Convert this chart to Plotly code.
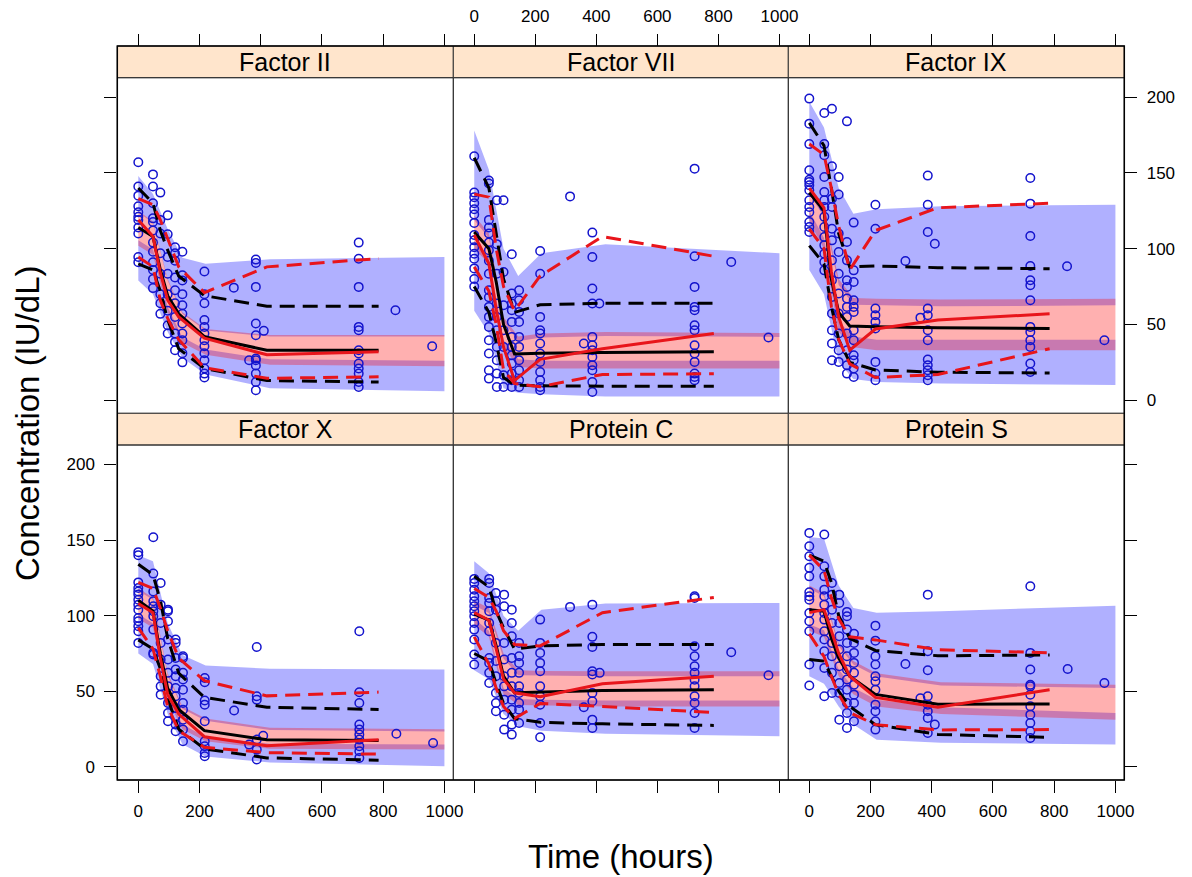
import plotly.graph_objects as go

W, H = 1192, 877

X_TICKS = [0, 200, 400, 600, 800, 1000]
Y_TICKS = [0, 50, 100, 150, 200]
X_RANGE = [-68.6, 1029]
Y_RANGE = [-8.6, 212.8]

# time grid of the percentile lines and of the confidence bands (hours)
T_LINE = [0, 48, 72, 96, 132, 216, 420, 785]
T_BAND = [0, 48, 96, 144, 220, 430, 1000]

# ---------------- Factor II ----------------
f2_points = [
    (0, [157, 141, 135, 128, 124, 121, 119, 114, 110, 94.5, 91]),
    (48, [149, 141, 130, 120, 117.6, 112, 104, 98, 91, 86, 80, 74]),
    (72, [137, 119, 110, 97, 83.5, 70, 64, 57]),
    (96, [122, 109.5, 94.5, 83.5, 70, 59, 49.5, 44]),
    (120, [101, 97, 92, 81, 72.6, 64, 55, 44, 38.5, 33]),
    (144, [98, 82.5, 79, 70, 62.7, 57, 50.6, 44, 39.6, 31, 25]),
    (216, [85, 70, 64, 53, 48.4, 44, 39.6, 35.6, 31, 26.4, 21, 17.6, 15]),
    (312, [74.3]),
    (362, [26.4]),
    (384, [92.8, 90.6, 74.8, 50.6, 42.9, 27.5, 26.4, 23, 17.6, 12, 6.6]),
    (410, [45.8]),
    (720, [104, 93.4, 74.8, 48.4, 46.2, 33, 30.8, 24.2, 21, 17.6, 12, 8.8]),
    (840, [59.4]),
    (960, [35.6]),
]
f2_sim_med = [114, 108, 86, 69, 57, 42, 33, 33]
f2_sim_p95 = [140, 130, 112, 99, 82, 69, 62, 62]
f2_sim_p05 = [90, 86, 72, 53, 34, 21, 13, 12]
f2_obs_med = [119, 108, 84, 66, 55, 41, 30, 32]
f2_obs_p95 = [133, 129, 119, 107, 88, 71, 88, 93.5]
f2_obs_p05 = [94.5, 88, 66, 54, 40, 21.5, 14.5, 15.5]
f2_ci95_hi = [148, 136, 113, 94, 90, 93, 94.5]
f2_ci95_lo = [124, 117, 79, 57, 46, 42, 42]
f2_cimed_hi = [125, 118, 80, 58, 47, 43, 43]
f2_cimed_lo = [102, 96, 58, 38, 30, 23.5, 22.5]
f2_ci05_hi = [105.5, 99.5, 61.5, 41.5, 33.5, 27, 26]
f2_ci05_lo = [79, 70, 45, 28, 17, 8, 6]

# ---------------- Factor VII ----------------
f7_points = [
    (0, [161, 137, 134, 130, 126, 122.5, 117, 109, 105.5, 101, 96.7, 93.4, 87, 80, 75]),
    (48, [145, 143, 119, 114, 110, 104, 99, 92, 83.5, 72.6, 68, 61.6, 55, 48.4, 39.6, 30.8, 19.8, 14.3]),
    (74, [132, 103, 83.5, 63.8, 55, 46.2, 35.2, 26.4, 17.6, 8.8]),
    (96, [132, 84.6, 62.7, 46.2, 35.2, 16.5, 8.8]),
    (123, [96.3, 70.4, 63.8, 59.4, 51.7, 41.8, 35.2, 29.7, 24.2, 17.6, 13.2, 8.8]),
    (147, [72.6, 66, 58.3, 51.7, 41.8, 35.2, 26.4, 19.8, 13.2, 8.8]),
    (216, [98.5, 83.5, 55, 46.2, 44, 37.4, 30.8, 25.3, 18.7, 13.2, 8.8, 6.6]),
    (314, [134.5]),
    (359, [37.4]),
    (387, [110.6, 94.5, 73.7, 63.8, 41.8, 36.3, 33, 28.6, 23.1, 19.8, 12.1, 5.5]),
    (410, [63.8]),
    (722, [152.8, 95, 74.8, 61.6, 59.4, 49.5, 46.2, 36.3, 30.8, 25.3, 17.6, 15.4, 13.2]),
    (842, [91.2]),
    (964, [41.4]),
]
f7_sim_med = [111, 100, 78, 50, 30.5, 31, 31.5, 32]
f7_sim_p95 = [160, 140, 110, 80, 58, 63, 64, 64]
f7_sim_p05 = [75, 58, 38, 15, 10, 9.5, 9.3, 9.3]
f7_obs_med = [109, 90, 60, 35, 13, 27, 34, 44]
f7_obs_p95 = [136, 134, 100, 75, 59, 82, 108, 95]
f7_obs_p05 = [88, 72, 50, 20, 11, 9, 17, 17.5]
f7_ci95_hi = [178, 152, 100, 82, 97, 103, 97]
f7_ci95_lo = [119, 107, 52, 39, 41.4, 42.4, 41.8]
f7_cimed_hi = [122, 110, 55, 42, 44, 45, 44.4]
f7_cimed_lo = [100, 90, 35, 22, 21, 21, 21]
f7_ci05_hi = [105, 95, 40, 27, 26, 26, 26]
f7_ci05_lo = [59, 44, 8, 5, 4, 2.5, 2.5]

# ---------------- Factor IX ----------------
f9_points = [
    (0, [199, 182.5, 169, 151.7, 145.5, 144, 141.8, 138.5, 132, 127.5, 124, 117.6, 114.3, 111]),
    (49, [189.5, 169, 161.6, 147.3, 137.4, 132, 127.5, 121, 114.3, 107.7, 102.2, 96.7, 91.2, 85.7]),
    (74, [192.3, 154.3, 133, 127.5, 113.2, 105.5, 92.3, 79.2, 68.2, 57.2, 46.2, 37.4, 26.4]),
    (96, [147.3, 135.8, 110, 97.8, 83.5, 70.4, 57.2, 44, 33, 25.3]),
    (123, [184, 104.4, 92.3, 79.2, 74.8, 67.1, 61.6, 55, 44, 33, 23.1, 17.6]),
    (145, [117.2, 85.7, 78, 66, 61.6, 58.3, 46.2, 39.6, 29.7, 26.4, 20.9, 15.4]),
    (216, [129, 113.2, 60.5, 56.1, 51.7, 47.3, 25.3, 17.6, 13.2]),
    (314, [91.9]),
    (363, [54.5]),
    (387, [148.2, 129, 111, 60.5, 56.1, 46.2, 39.6, 26.9, 23.1, 19.8, 16.5, 13.2]),
    (410, [103.3]),
    (722, [146.6, 129.7, 108.4, 88.6, 79.2, 75.9, 66, 48.4, 45.1, 39.6, 35.2, 24.2, 18.7]),
    (842, [88.4]),
    (964, [39.6]),
]
f9_sim_med = [137, 125, 80, 58, 49, 48.5, 47.8, 47.3]
f9_sim_p95 = [183, 168, 140, 110, 88, 88.6, 87.5, 86.8]
f9_sim_p05 = [102, 90, 62, 40, 25, 20, 18.5, 18]
f9_obs_med = [140, 127, 85, 55, 33, 47, 53, 57]
f9_obs_p95 = [169, 162, 140, 115, 86, 112, 127, 130]
f9_obs_p05 = [113, 100, 62, 40, 24, 15, 17, 34]
f9_ci95_hi = [197, 180, 140, 123, 126, 128, 129]
f9_ci95_lo = [136, 121, 76, 63, 62.6, 62, 62.6]
f9_cimed_hi = [140, 125, 80, 67.4, 67, 66.4, 67]
f9_cimed_lo = [118, 100, 45, 35, 33, 33, 33]
f9_ci05_hi = [125, 107, 52, 42, 40, 40, 40]
f9_ci05_lo = [86, 70, 25, 14, 12, 11, 10]

# ---------------- Factor X ----------------
f10_points = [
    (0, [142, 140, 122, 118.3, 116, 114, 110.6, 107.3, 104, 98.5, 96.3, 93, 89.7, 82]),
    (49, [151.8, 127.8, 116, 109.5, 106.2, 103, 99.6, 90.8, 75.4, 74.3]),
    (73, [121.6, 107.3, 95.2, 82, 71, 60, 53.3, 47.8]),
    (97, [104, 103, 96.3, 84.2, 71, 62.2, 53.3, 42.3, 35.7, 30.2]),
    (122, [84.2, 82, 72, 64.4, 60, 52.2, 46.7, 39, 33.5, 28, 23.6]),
    (146, [73.2, 72, 62.2, 57.8, 51.1, 42.3, 37.9, 31.3, 24.7, 17]),
    (217, [58.8, 56, 43.9, 41.2, 30.2, 17, 13.7, 9.3, 7.1]),
    (313, [37.3]),
    (362, [14.8]),
    (387, [79.3, 46.7, 44.5, 18.1, 11.5, 4.9]),
    (408, [20.7]),
    (722, [89.7, 49.4, 42.3, 28, 24.7, 21.4, 18.1, 13.7, 10.4, 6]),
    (843, [22]),
    (963, [15.9]),
]
f10_sim_med = [110, 103, 75, 52, 38, 24, 18, 17.5]
f10_sim_p95 = [134, 127, 110, 85, 62, 46, 39.5, 38]
f10_sim_p05 = [84, 78, 65, 45, 25, 12, 6, 4.5]
f10_obs_med = [108, 102, 72, 48, 35, 20, 14, 18]
f10_obs_p95 = [122, 118, 105, 90, 72, 57, 47, 49.5]
f10_obs_p05 = [92, 78, 60, 40, 24, 13, 9.5, 8.5]
f10_ci95_hi = [140, 136, 95, 74, 67, 65, 64.4]
f10_ci95_lo = [116.5, 110.5, 60.5, 38.5, 30.5, 24.5, 23.5]
f10_cimed_hi = [118, 112, 62, 40, 32, 26, 25]
f10_cimed_lo = [98, 92, 45, 25, 17, 12, 11.5]
f10_ci05_hi = [101, 95, 48, 28, 20, 15.3, 14.8]
f10_ci05_lo = [75, 68, 35, 15, 7, 3, 0.5]

# ---------------- Protein C ----------------
pc_points = [
    (0, [124.3, 121.6, 117.2, 112.8, 109.5, 106.2, 103, 99.6, 95.2, 90.8, 84.2, 74.3, 67.7]),
    (49, [124.3, 121.6, 111.7, 108.4, 103, 95.2, 89.7, 72, 68.8, 62.2, 55.5]),
    (71, [115, 109.5, 104, 82, 70, 60, 48.9, 42.3, 36.8]),
    (98, [113.9, 106.2, 82, 71, 60, 53.3, 44.5, 34.6, 24.7]),
    (123, [104, 95.2, 86.4, 72, 62.2, 53.3, 44.5, 37.9, 28, 21.4]),
    (147, [82, 73.2, 68.8, 62.2, 53.3, 48.9, 42.3, 37.9, 29.1]),
    (216, [97.4, 82, 75.4, 68.8, 63.3, 53.3, 46.7, 41.2, 29.1, 19.6]),
    (314, [105.8]),
    (359, [39.5]),
    (387, [107.3, 86, 79.3, 63.3, 61.1, 48.9, 43.4, 31.3, 25.8]),
    (411, [62.2]),
    (722, [112.8, 111.7, 79.8, 73.2, 66.6, 62.2, 57.7, 53.3, 46.7, 42.3, 35.7, 25.8]),
    (842, [75.8]),
    (964, [60.6]),
]
pc_sim_med = [101, 97, 80, 60, 49, 49.5, 50.5, 51]
pc_sim_p95 = [126, 119, 103, 92, 78, 80, 81, 81]
pc_sim_p05 = [75, 70, 55, 42, 32, 29.5, 28.5, 27.5]
pc_obs_med = [102, 97, 78, 58, 49, 46.5, 55, 60]
pc_obs_p95 = [118, 112, 103, 90, 81, 80, 102, 112]
pc_obs_p05 = [86, 68, 52, 40, 32, 42, 40, 36]
pc_ci95_hi = [136, 128, 100, 90, 104, 108, 108.4]
pc_ci95_lo = [106.7, 101.7, 71.7, 60.7, 60.2, 60, 60]
pc_cimed_hi = [110, 105, 75, 64, 63.5, 63.3, 63.3]
pc_cimed_lo = [94, 86, 48, 41, 40.5, 40, 40]
pc_ci05_hi = [98, 90, 52, 45, 44.5, 44, 44]
pc_ci05_lo = [64, 58, 35, 27, 24, 22, 20.3]

# ---------------- Protein S ----------------
ps_points = [
    (0, [154.7, 145.9, 139.3, 131.6, 126, 115.5, 112.8, 110.6, 101.8, 96.3, 89.7, 67.7, 53.8]),
    (49, [153.6, 132.7, 126, 117.2, 112.8, 107.3, 101.8, 97.4, 89.7, 84.2, 76.5, 65.5, 46.7]),
    (74, [121.6, 113.9, 104, 95.2, 82, 73.2, 62.2, 48.9]),
    (98, [113.9, 108.4, 95.2, 86.4, 77.6, 66.6, 55.5, 48.9, 31.3]),
    (123, [102.5, 99.6, 90.8, 82, 73.2, 64.4, 57.8, 51.1, 42.3, 35.7, 25.8]),
    (146, [88.1, 82, 75.4, 68.8, 62.2, 54.4, 47.8, 42.3, 30.2]),
    (216, [93.4, 83.5, 73.2, 67.7, 60, 56.6, 51.1, 41.2, 36.8, 30.2, 24.7]),
    (314, [68.1]),
    (363, [45.4]),
    (387, [113.9, 76.5, 63.9, 46.7, 41.2, 36.8, 32.4, 22.5]),
    (410, [28]),
    (722, [119.4, 75.4, 64.4, 54.4, 53.3, 47.8, 40.1, 34.6, 29.1, 23.6, 19.2]),
    (844, [64.8]),
    (964, [55.5]),
]
ps_sim_med = [104, 103, 85, 72, 60, 48, 41.5, 41.7]
ps_sim_p95 = [140, 136, 122, 100, 85, 77, 73.5, 74]
ps_sim_p05 = [71, 70, 60, 50, 40, 28, 21.5, 19.6]
ps_obs_med = [102, 104, 90, 75, 60, 46, 39.5, 51]
ps_obs_p95 = [140, 130, 112, 98, 86, 84, 77.5, 75.5]
ps_obs_p05 = [88, 73, 60, 48, 36, 28, 24.5, 24.7]
ps_ci95_hi = [152, 151, 120, 105, 102, 103, 106.6]
ps_ci95_lo = [117.8, 112.8, 79.8, 67.8, 59.8, 53.8, 52.2]
ps_cimed_hi = [120, 115, 82, 70, 62, 56, 54.4]
ps_cimed_lo = [90, 86, 60, 48, 40, 35, 31.3]
ps_ci05_hi = [94.4, 90.4, 64.4, 52.4, 44.4, 39.4, 35.7]
ps_ci05_lo = [60, 55, 40, 28, 18, 16, 14.8]

panels = [
    dict(title="Factor II", points=f2_points,
         sim=(f2_sim_med, f2_sim_p95, f2_sim_p05), obs=(f2_obs_med, f2_obs_p95, f2_obs_p05),
         ci05=(f2_ci05_lo, f2_ci05_hi), ci95=(f2_ci95_lo, f2_ci95_hi), cimed=(f2_cimed_lo, f2_cimed_hi)),
    dict(title="Factor VII", points=f7_points,
         sim=(f7_sim_med, f7_sim_p95, f7_sim_p05), obs=(f7_obs_med, f7_obs_p95, f7_obs_p05),
         ci05=(f7_ci05_lo, f7_ci05_hi), ci95=(f7_ci95_lo, f7_ci95_hi), cimed=(f7_cimed_lo, f7_cimed_hi)),
    dict(title="Factor IX", points=f9_points,
         sim=(f9_sim_med, f9_sim_p95, f9_sim_p05), obs=(f9_obs_med, f9_obs_p95, f9_obs_p05),
         ci05=(f9_ci05_lo, f9_ci05_hi), ci95=(f9_ci95_lo, f9_ci95_hi), cimed=(f9_cimed_lo, f9_cimed_hi)),
    dict(title="Factor X", points=f10_points,
         sim=(f10_sim_med, f10_sim_p95, f10_sim_p05), obs=(f10_obs_med, f10_obs_p95, f10_obs_p05),
         ci05=(f10_ci05_lo, f10_ci05_hi), ci95=(f10_ci95_lo, f10_ci95_hi), cimed=(f10_cimed_lo, f10_cimed_hi)),
    dict(title="Protein C", points=pc_points,
         sim=(pc_sim_med, pc_sim_p95, pc_sim_p05), obs=(pc_obs_med, pc_obs_p95, pc_obs_p05),
         ci05=(pc_ci05_lo, pc_ci05_hi), ci95=(pc_ci95_lo, pc_ci95_hi), cimed=(pc_cimed_lo, pc_cimed_hi)),
    dict(title="Protein S", points=ps_points,
         sim=(ps_sim_med, ps_sim_p95, ps_sim_p05), obs=(ps_obs_med, ps_obs_p95, ps_obs_p05),
         ci05=(ps_ci05_lo, ps_ci05_hi), ci95=(ps_ci95_lo, ps_ci95_hi), cimed=(ps_cimed_lo, ps_cimed_hi)),
]

# panel geometry in pixels
COL_EDGES = [117.3, 453.3, 788.3, 1124.3]
ROW_PLOT = [(77.7, 413.3), (445.0, 780.0)]
ROW_STRIP = [(46.0, 77.7), (413.3, 445.0)]

FONT = "Liberation Sans, Arial, sans-serif"
BLUE_BAND = "rgba(0,0,255,0.31)"
RED_BAND = "rgba(255,0,0,0.31)"
PT_COLOR = "rgb(20,20,205)"
LINE_RED = "#E8151B"
DASH = "15px,8px"


def px(v):
    return v / W


def py(v):
    return 1 - v / H


def band(t, lo, hi, color, xa, ya):
    return go.Scatter(x=list(t) + list(t)[::-1], y=list(hi) + list(lo)[::-1],
                      fill="toself", fillcolor=color, mode="lines", line=dict(width=0),
                      xaxis=xa, yaxis=ya, hoverinfo="skip", showlegend=False)


def line(y, color, dash, xa, ya):
    return go.Scatter(x=T_LINE, y=y, mode="lines",
                      line=dict(color=color, width=3, dash=dash),
                      xaxis=xa, yaxis=ya, hoverinfo="skip", showlegend=False)


fig = go.Figure()
layout_axes = {}
shapes = []
annotations = []

tick_common = dict(showgrid=False, zeroline=False, showline=False, automargin=False,
                   ticklen=12, tickwidth=1, tickcolor="black",
                   tickfont=dict(family=FONT, size=17, color="black"))

for i, p in enumerate(panels):
    r, c = divmod(i, 3)
    n = i + 1
    xa = "x" if n == 1 else f"x{n}"
    ya = "y" if n == 1 else f"y{n}"

    fig.add_trace(band(T_BAND, *p["ci05"], BLUE_BAND, xa, ya))
    fig.add_trace(band(T_BAND, *p["ci95"], BLUE_BAND, xa, ya))
    fig.add_trace(band(T_BAND, *p["cimed"], RED_BAND, xa, ya))

    xs, ys = [], []
    for t, vals in p["points"]:
        xs += [t] * len(vals)
        ys += vals
    fig.add_trace(go.Scatter(x=xs, y=ys, mode="markers", xaxis=xa, yaxis=ya,
                             marker=dict(symbol="circle-open", size=8.5, color=PT_COLOR,
                                         line=dict(width=1.5, color=PT_COLOR)),
                             hoverinfo="skip", showlegend=False))

    med, p95, p05 = p["sim"]
    fig.add_trace(line(p95, "black", DASH, xa, ya))
    fig.add_trace(line(p05, "black", DASH, xa, ya))
    fig.add_trace(line(med, "black", "solid", xa, ya))
    med, p95, p05 = p["obs"]
    fig.add_trace(line(p95, LINE_RED, DASH, xa, ya))
    fig.add_trace(line(p05, LINE_RED, DASH, xa, ya))
    fig.add_trace(line(med, LINE_RED, "solid", xa, ya))

    top, bot = ROW_PLOT[r]
    xdom = [px(COL_EDGES[c]), px(COL_EDGES[c + 1])]
    ydom = [py(bot), py(top)]
    xkey = "xaxis" if n == 1 else f"xaxis{n}"
    ykey = "yaxis" if n == 1 else f"yaxis{n}"
    layout_axes[xkey] = dict(tick_common, domain=xdom, anchor=ya, range=X_RANGE,
                             tickvals=X_TICKS, ticklabelstandoff=4,
                             ticks="outside" if r == 1 else "",
                             showticklabels=(r == 1 and c != 1))
    layout_axes[ykey] = dict(tick_common, domain=ydom, anchor=xa, range=Y_RANGE,
                             tickvals=Y_TICKS, ticklabelstandoff=6,
                             ticks="outside" if c == 0 else "",
                             showticklabels=(c == 0 and r == 1))

    # panel frame and strip
    s_top, s_bot = ROW_STRIP[r]
    shapes.append(dict(type="rect", xref="paper", yref="paper",
                       x0=xdom[0], x1=xdom[1], y0=py(s_bot), y1=py(s_top),
                       fillcolor="#FFE5CC", line=dict(color="#333333", width=1)))
    shapes.append(dict(type="rect", xref="paper", yref="paper", layer="above",
                       x0=xdom[0], x1=xdom[1], y0=ydom[0], y1=ydom[1],
                       line=dict(color="#333333", width=1)))
    annotations.append(dict(text=p["title"], xref="paper", yref="paper",
                            x=(xdom[0] + xdom[1]) / 2, y=py((s_top + s_bot) / 2),
                            showarrow=False, xanchor="center", yanchor="middle",
                            font=dict(family=FONT, size=25, color="black")))

# alternating tick axes on the outer sides of the lattice
for k, (base, labels) in enumerate([("x", False), ("x2", True), ("x3", False)]):
    key = f"xaxis{7 + k}"
    layout_axes[key] = dict(tick_common, overlaying=base, anchor="free", position=py(46.0),
                            side="top", range=X_RANGE, tickvals=X_TICKS, ticks="outside",
                            ticklabelstandoff=5, showticklabels=labels)
    fig.add_trace(go.Scatter(x=[], y=[], xaxis=f"x{7 + k}", yaxis="y" if base == "x" else "y" + base[1:],
                             showlegend=False, hoverinfo="skip"))

layout_axes["yaxis10"] = dict(tick_common, overlaying="y3", anchor="x3", side="right",
                              range=Y_RANGE, tickvals=Y_TICKS, ticks="outside",
                              ticklabelstandoff=6, showticklabels=True)
layout_axes["yaxis11"] = dict(tick_common, overlaying="y6", anchor="x6", side="right",
                              range=Y_RANGE, tickvals=Y_TICKS, ticks="outside", showticklabels=False)
fig.add_trace(go.Scatter(x=[], y=[], xaxis="x3", yaxis="y10", showlegend=False, hoverinfo="skip"))
fig.add_trace(go.Scatter(x=[], y=[], xaxis="x6", yaxis="y11", showlegend=False, hoverinfo="skip"))

# outer frame of the lattice
shapes.append(dict(type="rect", xref="paper", yref="paper", layer="above",
                   x0=px(COL_EDGES[0]), x1=px(COL_EDGES[3]), y0=py(780.0), y1=py(46.0),
                   line=dict(color="black", width=1.5)))

annotations.append(dict(text="Concentration (IU/dL)", xref="paper", yref="paper",
                        x=px(27), y=py(424), textangle=-90, showarrow=False,
                        xanchor="center", yanchor="middle",
                        font=dict(family=FONT, size=33, color="black")))
annotations.append(dict(text="Time (hours)", xref="paper", yref="paper",
                        x=px(621), y=py(856), showarrow=False,
                        xanchor="center", yanchor="middle",
                        font=dict(family=FONT, size=33, color="black")))

fig.update_layout(template="none", width=W, height=H, autosize=False,
                  margin=dict(l=0, r=0, t=0, b=0, pad=0),
                  paper_bgcolor="white", plot_bgcolor="white",
                  showlegend=False, shapes=shapes, annotations=annotations,
                  font=dict(family=FONT, color="black"),
                  **layout_axes)

fig.write_html("out.html", config={"responsive": False})
